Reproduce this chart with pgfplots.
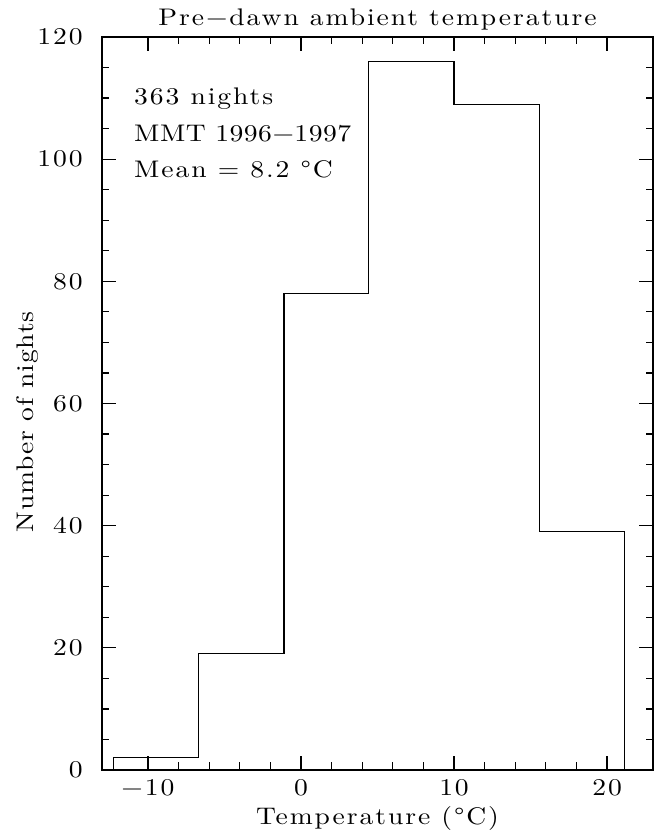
\documentclass[border=0pt]{standalone}
\usepackage{fontspec}
\setmainfont{lmroman10-regular.otf}[FakeStretch=1.15, LetterSpace=8]
\usepackage{pgfplots}
\pgfplotsset{compat=1.18}
\newcommand\chfont{\fontsize{12}{14.4}\selectfont}
\begin{document}
\begin{tikzpicture}[font=\chfont]
\begin{axis}[
  scale only axis,
  width=275.5pt, height=366.5pt,
  xmin=-13, xmax=23, ymin=0, ymax=120,
  xtick={-10,0,10,20},
  xticklabels={−10,0,10,20},
  ytick={0,20,40,60,80,100,120},
  yticklabels={0,20,40,60,80,100,120},
  minor x tick num=4,
  minor y tick num=3,
  tick align=inside,
  major tick length=7pt,
  minor tick length=3.75pt,
  axis line style={line width=0.6pt},
  every tick/.style={black, line width=0.6pt},
  tick label style={font=\chfont, inner sep=0pt},
  xticklabel style={anchor=base, yshift=-12.5pt},
  yticklabel style={anchor=east, xshift=-9.5pt},
  every axis title shift=0pt,
  title={Pre−dawn ambient temperature},
  title style={at={(axis description cs:0.5,1.015)}, anchor=base, inner sep=0pt, font=\chfont},
  xlabel={Temperature (°C)},
  xlabel style={at={(axis description cs:0.5,-0.075)}, anchor=base, inner sep=0pt, font=\chfont},
  ylabel={\addfontfeatures{LetterSpace=3}Number of nights},
  ylabel style={at={(axis description cs:-0.1252,0.475)}, anchor=base, inner sep=0pt, font=\chfont},
]
\addplot[const plot, black, line width=0.55pt, mark=none] coordinates {
  (-12.22,0) (-12.22,2) (-6.67,19) (-1.11,78) (4.44,116) (10.00,109) (15.56,39) (21.11,39) (21.11,0)
};
\node[anchor=base west, inner sep=0pt] at (axis cs:-10.92,108.9) {363 nights};
\node[anchor=base west, inner sep=0pt] at (axis cs:-10.92,102.9) {\addfontfeatures{LetterSpace=2}MMT 1996−1997};
\node[anchor=base west, inner sep=0pt] at (axis cs:-10.92,97.0) {Mean = 8.2 °C};
\end{axis}
\pgfresetboundingbox
\path ([shift={(-51pt,-32pt)}]current axis.south west) rectangle ([shift={(6pt,18.5pt)}]current axis.north east);
\end{tikzpicture}
\end{document}
